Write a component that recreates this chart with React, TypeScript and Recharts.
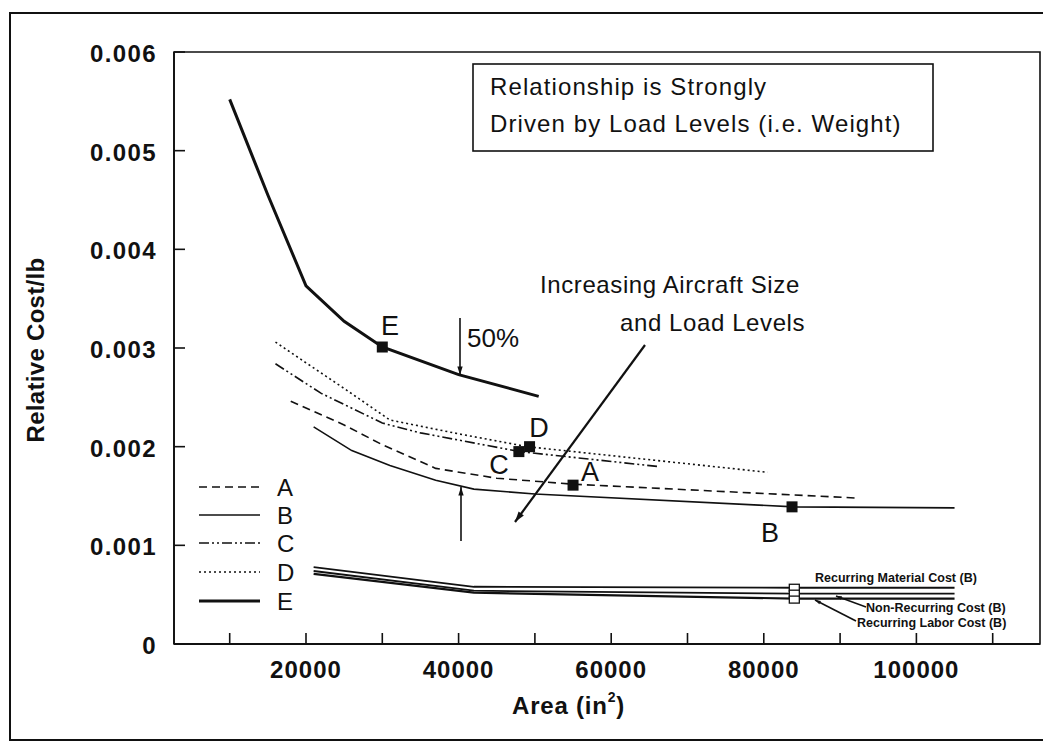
import React from "react";
import { ComposedChart, Line, Scatter, XAxis, YAxis, ReferenceArea } from "recharts";

// ---------- axis ticks ----------
const areaTicks = [10000, 20000, 30000, 40000, 50000, 60000, 70000, 80000, 90000, 100000, 110000];
const areaLabels = [20000, 40000, 60000, 80000, 100000];
const costTicks = [0, 0.001, 0.002, 0.003, 0.004, 0.005, 0.006];
const costLabels = ["0", "0.001", "0.002", "0.003", "0.004", "0.005", "0.006"];

// ---------- series ----------
const seriesA = [
  { x: 18000, y: 0.00246 },
  { x: 25000, y: 0.00222 },
  { x: 30000, y: 0.00202 },
  { x: 37000, y: 0.00178 },
  { x: 45000, y: 0.00168 },
  { x: 55000, y: 0.00162 },
  { x: 92000, y: 0.00148 },
];
const seriesB = [
  { x: 21000, y: 0.0022 },
  { x: 26000, y: 0.00196 },
  { x: 31000, y: 0.00181 },
  { x: 37000, y: 0.00166 },
  { x: 42000, y: 0.00157 },
  { x: 50000, y: 0.00152 },
  { x: 84000, y: 0.00139 },
  { x: 105000, y: 0.00138 },
];
const seriesC = [
  { x: 16000, y: 0.00284 },
  { x: 22000, y: 0.00254 },
  { x: 30000, y: 0.00224 },
  { x: 35000, y: 0.00214 },
  { x: 48000, y: 0.00195 },
  { x: 66000, y: 0.0018 },
];
const seriesD = [
  { x: 16000, y: 0.00306 },
  { x: 20000, y: 0.00285 },
  { x: 25000, y: 0.00259 },
  { x: 31000, y: 0.00227 },
  { x: 40000, y: 0.00213 },
  { x: 49000, y: 0.002 },
  { x: 80500, y: 0.00174 },
];
const seriesE = [
  { x: 10000, y: 0.00552 },
  { x: 15000, y: 0.00455 },
  { x: 20000, y: 0.00363 },
  { x: 25000, y: 0.00327 },
  { x: 30000, y: 0.00301 },
  { x: 40000, y: 0.00273 },
  { x: 50500, y: 0.00251 },
];
const recurringMaterial = [
  { x: 21000, y: 0.00078 },
  { x: 42000, y: 0.00058 },
  { x: 84000, y: 0.00057 },
  { x: 105000, y: 0.00057 },
];
const nonRecurring = [
  { x: 21000, y: 0.00074 },
  { x: 42000, y: 0.00054 },
  { x: 84000, y: 0.00051 },
  { x: 105000, y: 0.00051 },
];
const recurringLabor = [
  { x: 21000, y: 0.00071 },
  { x: 42000, y: 0.00052 },
  { x: 84000, y: 0.00046 },
  { x: 105000, y: 0.00046 },
];

// design points
const designPoints = [
  { x: 30000, y: 0.00301 },
  { x: 49300, y: 0.002 },
  { x: 47900, y: 0.00195 },
  { x: 55000, y: 0.00161 },
  { x: 83700, y: 0.00139 },
];
const componentPoints = [
  { x: 84000, y: 0.00057 },
  { x: 84000, y: 0.00051 },
  { x: 84000, y: 0.00045 },
];

const FONT = "'Liberation Sans', Arial, Helvetica, sans-serif";

const XTick = (props: any) => {
  const { x, y, payload } = props;
  const v = payload.value;
  return (
    <g>
      <line x1={x} x2={x} y1={y} y2={y - 11} stroke="#111" strokeWidth={1.6} />
      {areaLabels.includes(v) && (
        <text x={x} y={y + 34} textAnchor="middle" fontFamily={FONT} fontWeight="bold" fontSize={24} letterSpacing={1} fill="#111">
          {String(v)}
        </text>
      )}
    </g>
  );
};

const YTick = (props: any) => {
  const { x, y, payload, index } = props;
  return (
    <g>
      <line x1={x} x2={x + 11} y1={y} y2={y} stroke="#111" strokeWidth={1.6} />
      <text x={x - 17} y={y + 10} textAnchor="end" fontFamily={FONT} fontWeight="bold" fontSize={24} letterSpacing={1.4} fill="#111">
        {costLabels[costTicks.indexOf(payload.value)] ?? String(index)}
      </text>
    </g>
  );
};

const FilledSquare = (props: any) => {
  const { cx, cy } = props;
  return <rect x={cx - 5.5} y={cy - 5.5} width={11} height={11} fill="#111" />;
};
const OpenSquare = (props: any) => {
  const { cx, cy } = props;
  return <rect x={cx - 5} y={cy - 3.5} width={10} height={7} fill="#fff" stroke="#111" strokeWidth={1.3} />;
};

const Arrow = ({ x1, y1, x2, y2, w = 1.8, head = 9 }: any) => {
  const a = Math.atan2(y2 - y1, x2 - x1);
  const hx1 = x2 - head * Math.cos(a - 0.3);
  const hy1 = y2 - head * Math.sin(a - 0.3);
  const hx2 = x2 - head * Math.cos(a + 0.3);
  const hy2 = y2 - head * Math.sin(a + 0.3);
  return (
    <g>
      <line x1={x1} y1={y1} x2={x2} y2={y2} stroke="#111" strokeWidth={w} />
      <polygon points={`${x2},${y2} ${hx1},${hy1} ${hx2},${hy2}`} fill="#111" />
    </g>
  );
};

const legendItems = [
  { name: "A", dash: "8 5", w: 1.6 },
  { name: "B", dash: undefined, w: 1.6 },
  { name: "C", dash: "10 3 2 3 2 3", w: 1.6 },
  { name: "D", dash: "2 3", w: 1.6 },
  { name: "E", dash: undefined, w: 3.2 },
];
const legendRows = [487, 515, 543, 572, 601];

export default function App() {
  const txt = { fontFamily: FONT, fill: "#111" } as any;
  return (
    <div style={{ position: "absolute", left: 0, top: 0, width: 1043, height: 742, background: "#fff", overflow: "hidden" }}>
      <div
        style={{
          position: "absolute",
          left: 9,
          top: 12,
          width: 1045,
          height: 729,
          border: "2px solid #111",
          boxSizing: "border-box",
        }}
      />
      <div style={{ position: "absolute", left: 0, top: 0 }}>
        <ComposedChart width={1043} height={742} margin={{ top: 52, right: 3, bottom: 58, left: 114 }}>
          <XAxis
            type="number"
            dataKey="x"
            domain={[2700, 116200]}
            ticks={areaTicks}
            interval={0}
            height={40}
            tickSize={0}
            tickMargin={0}
            tick={<XTick />}
            axisLine={{ stroke: "#111", strokeWidth: 1.8 }}
            allowDataOverflow
          />
          <YAxis
            type="number"
            dataKey="y"
            domain={[0, 0.006]}
            ticks={costTicks}
            interval={0}
            width={60}
            tickSize={0}
            tickMargin={0}
            tick={<YTick />}
            axisLine={{ stroke: "#111", strokeWidth: 1.8 }}
            allowDataOverflow
          />
          <ReferenceArea x1={2700} x2={116200} y1={0} y2={0.006} fill="none" stroke="#111" strokeWidth={1.6} ifOverflow="visible" />
          <Line data={seriesA} dataKey="y" stroke="#111" strokeWidth={1.6} strokeDasharray="8 5" dot={false} isAnimationActive={false} />
          <Line data={seriesB} dataKey="y" stroke="#111" strokeWidth={1.6} dot={false} isAnimationActive={false} />
          <Line data={seriesC} dataKey="y" stroke="#111" strokeWidth={1.6} strokeDasharray="10 3 2 3 2 3" dot={false} isAnimationActive={false} />
          <Line data={seriesD} dataKey="y" stroke="#111" strokeWidth={1.6} strokeDasharray="2 3" dot={false} isAnimationActive={false} />
          <Line data={seriesE} dataKey="y" stroke="#111" strokeWidth={3} dot={false} isAnimationActive={false} />
          <Line data={recurringMaterial} dataKey="y" stroke="#111" strokeWidth={1.8} dot={false} isAnimationActive={false} />
          <Line data={nonRecurring} dataKey="y" stroke="#111" strokeWidth={1.8} dot={false} isAnimationActive={false} />
          <Line data={recurringLabor} dataKey="y" stroke="#111" strokeWidth={2.2} dot={false} isAnimationActive={false} />
          <Scatter data={designPoints} dataKey="y" shape={<FilledSquare />} isAnimationActive={false} />
          <Scatter data={componentPoints} dataKey="y" shape={<OpenSquare />} isAnimationActive={false} />
        </ComposedChart>
      </div>
      <svg width={1043} height={742} style={{ position: "absolute", left: 0, top: 0, pointerEvents: "none" }}>
        {/* axis titles */}
        <text {...txt} x={35} y={350} transform="rotate(-90 35 350)" textAnchor="middle" dominantBaseline="central" fontWeight="bold" fontSize={24} letterSpacing={0.3}>
          Relative Cost/lb
        </text>
        <text {...txt} x={512} y={714} fontWeight="bold" fontSize={24} letterSpacing={0.8}>
          Area (in
          <tspan fontSize={14} dy={-12}>2</tspan>
          <tspan dy={12}>)</tspan>
        </text>

        {/* info box */}
        <rect x={473} y={64} width={460} height={87} fill="#fff" stroke="#111" strokeWidth={1.6} />
        <text {...txt} x={490} y={95} fontSize={24} letterSpacing={1.1}>Relationship is Strongly</text>
        <text {...txt} x={490} y={132} fontSize={24} letterSpacing={1.1}>Driven by Load Levels (i.e. Weight)</text>

        {/* trend annotation */}
        <text {...txt} x={540} y={293} fontSize={24} letterSpacing={0.6}>Increasing Aircraft Size</text>
        <text {...txt} x={620} y={331} fontSize={24} letterSpacing={0.6}>and Load Levels</text>
        <Arrow x1={645} y1={345} x2={515} y2={522} w={2.2} head={11} />

        {/* 50% arrows */}
        <Arrow x1={460} y1={318} x2={460} y2={375} w={1.6} head={9} />
        <text {...txt} x={467} y={347} fontSize={26}>50%</text>
        <Arrow x1={461} y1={541} x2={461} y2={487} w={1.6} head={9} />

        {/* point labels */}
        <text {...txt} x={390} y={335} textAnchor="middle" fontSize={27}>E</text>
        <text {...txt} x={539} y={437} textAnchor="middle" fontSize={27}>D</text>
        <text {...txt} x={499} y={474} textAnchor="middle" fontSize={27}>C</text>
        <text {...txt} x={590} y={481} textAnchor="middle" fontSize={27}>A</text>
        <text {...txt} x={770} y={542} textAnchor="middle" fontSize={27}>B</text>

        {/* component cost labels */}
        <text {...txt} x={815} y={582} fontSize={12.5} fontWeight="bold">Recurring Material Cost (B)</text>
        <text {...txt} x={866} y={612} fontSize={12.5} fontWeight="bold">Non-Recurring Cost (B)</text>
        <text {...txt} x={857} y={627} fontSize={12.5} fontWeight="bold">Recurring Labor Cost (B)</text>
        <Arrow x1={866} y1={607} x2={836} y2={596} w={1.4} head={6} />
        <Arrow x1={856} y1={621} x2={815} y2={600} w={1.6} head={6} />

        {/* legend */}
        {legendItems.map((it, i) => (
          <g key={it.name}>
            <line x1={199} x2={260} y1={legendRows[i]} y2={legendRows[i]} stroke="#111" strokeWidth={it.w} strokeDasharray={it.dash} />
            <text {...txt} x={277} y={legendRows[i] + 9} fontSize={24}>{it.name}</text>
          </g>
        ))}
      </svg>
    </div>
  );
}
